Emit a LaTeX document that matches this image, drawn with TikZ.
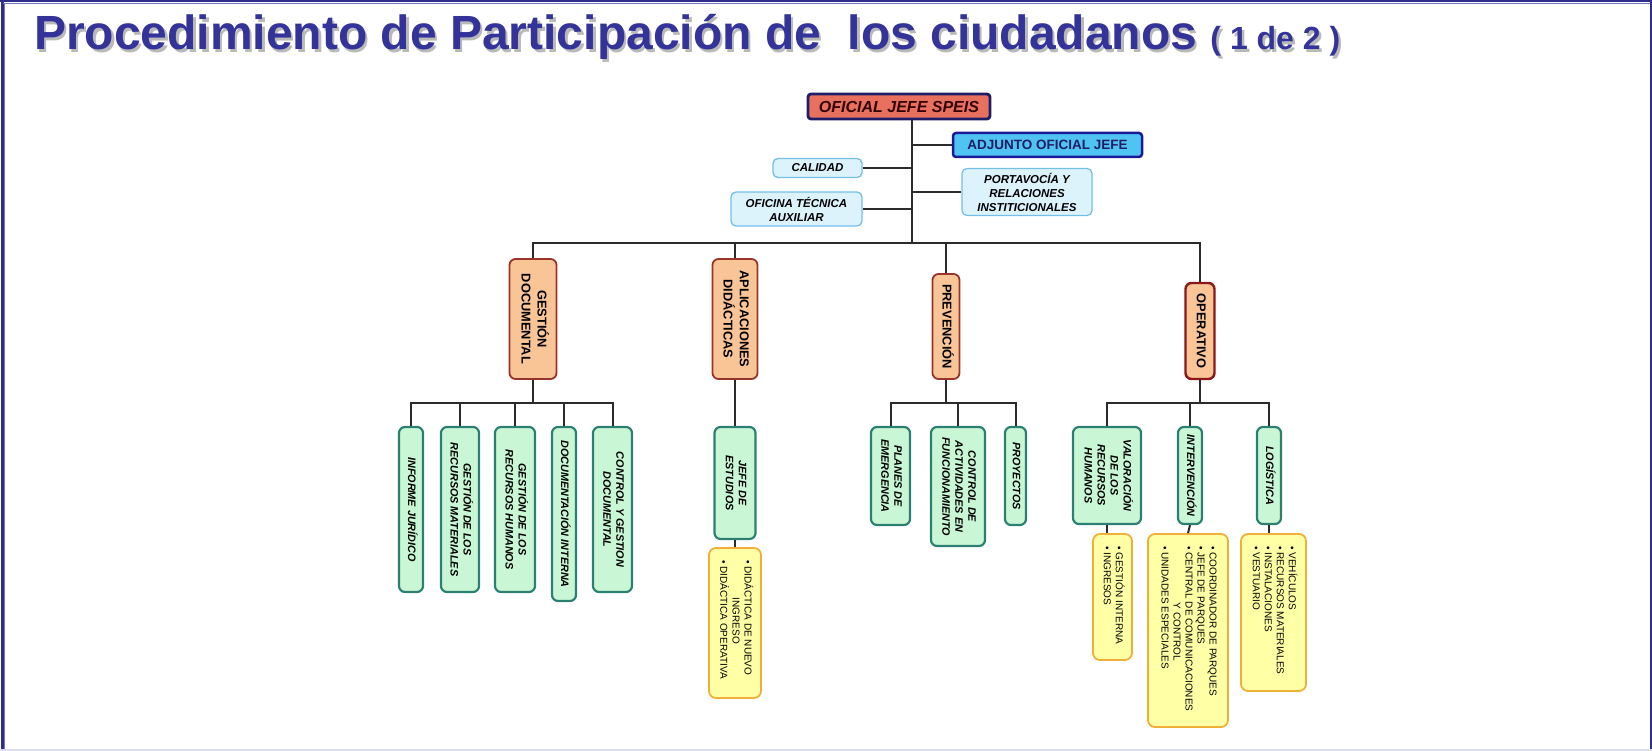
\documentclass[tikz,border=0pt]{standalone}
\usepackage{fontspec}
\setmainfont{Liberation Sans}
\usetikzlibrary{positioning}

\definecolor{titleblue}{HTML}{333399}
\definecolor{framenavy}{HTML}{2E2E8A}
\definecolor{framelight}{HTML}{7474C4}
\definecolor{framelav}{HTML}{DCDCF0}
\definecolor{chiefFill}{HTML}{E8705F}
\definecolor{chiefDraw}{HTML}{1E1E66}
\definecolor{adjFill}{HTML}{4FC3F2}
\definecolor{adjDraw}{HTML}{1A1A99}
\definecolor{staffFill}{HTML}{DDF3FC}
\definecolor{staffDraw}{HTML}{74BFE6}
\definecolor{areaFill}{HTML}{F9C597}
\definecolor{areaDraw}{HTML}{9A3328}
\definecolor{opDraw}{HTML}{8A1818}
\definecolor{unitFill}{HTML}{C9F6D4}
\definecolor{unitDraw}{HTML}{2C8073}
\definecolor{taskFill}{HTML}{FFFFA6}
\definecolor{taskDraw}{HTML}{EFB03A}
\definecolor{wireGray}{HTML}{2B2B2B}

% rotated labels (read top to bottom)
\newcommand{\vlabel}[1]{\rotatebox{-90}{\begin{tabular}{@{}c@{}}#1\end{tabular}}}
\newcommand{\vlist}[2]{\rotatebox{-90}{\makebox[#1][l]{\begin{tabular}{@{}l@{\hspace{3pt}}l@{}}#2\end{tabular}}}}

\begin{document}
\begin{tikzpicture}[x=1pt,y=-1pt,
    size/.style 2 args={minimum width=#1pt,minimum height=#2pt},
    box/.style={rounded corners=5pt,inner sep=2pt,text=black},
    chief/.style={box,rounded corners=3pt,fill=chiefFill,draw=chiefDraw,line width=2.8pt,
        font=\bfseries\itshape\fontsize{16}{18}\selectfont,text=black!80!red},
    adjunct/.style={box,rounded corners=3pt,fill=adjFill,draw=adjDraw,line width=2.5pt,
        font=\bfseries\fontsize{13.5}{16}\selectfont,text=chiefDraw},
    staff/.style={box,fill=staffFill,draw=staffDraw,line width=1.3pt,align=center,
        font=\bfseries\itshape\fontsize{11.5}{14}\selectfont},
    area/.style={box,rounded corners=6pt,fill=areaFill,draw=areaDraw,line width=1.8pt,
        font=\bfseries\fontsize{12.8}{16}\selectfont},
    unit/.style={box,rounded corners=6pt,fill=unitFill,draw=unitDraw,line width=2.2pt,
        font=\bfseries\itshape\fontsize{10.8}{13}\selectfont},
    task/.style={box,rounded corners=7pt,fill=taskFill,draw=taskDraw,line width=1.8pt,
        font=\fontsize{10}{12}\selectfont},
    wire/.style={draw=wireGray,line width=2pt},
    heading/.style={anchor=base west,inner sep=0pt,font=\bfseries\fontsize{48}{56}\selectfont}]

    \useasboundingbox (0,0) rectangle (1652,751);

    % frame
    \draw[framenavy,line width=2.5pt] (2.5,0) -- (2.5,751);
    \draw[framelight,line width=1.2pt] (4.6,3) -- (4.6,751);
    \draw[framenavy,line width=2pt] (0,1.5) -- (1652,1.5);
    \draw[framelight,line width=1pt] (3,3.5) -- (1652,3.5);
    \draw[framenavy,line width=2pt] (1651,0) -- (1651,751);
    \draw[framelav,line width=1.5pt] (0,750) -- (1652,750);

    % title
    \node[heading,text=gray!55] (titleshade) at (36.5,52.5)
        {Procedimiento de Participación de~~los ciudadanos {\fontsize{32}{36}\selectfont ( 1 de 2 )}};
    \node[heading,text=titleblue] (title) at (34,50)
        {Procedimiento de Participación de~~los ciudadanos {\fontsize{32}{36}\selectfont ( 1 de 2 )}};

    % head and staff
    \node[chief,size={182}{25}] (chief) at (899,106.5) {OFICIAL JEFE SPEIS};
    \node[adjunct,size={189}{24}] (adjunct) at (1047.5,145) {ADJUNTO OFICIAL JEFE};
    \node[staff,size={89}{19}] (quality) at (817.5,168) {CALIDAD};
    \node[staff,size={131}{34}] (techoffice) at (796.5,209) {OFICINA TÉCNICA\\AUXILIAR};
    \node[staff,size={130}{47}] (press) at (1027,192) {PORTAVOCÍA Y\\RELACIONES\\INSTITICIONALES};

    \coordinate (trunk) at (912,243);
    \coordinate (subbar) at (0,403);
    \draw[wire] (chief.south -| trunk) -- (trunk);
    \draw[wire] (adjunct.west) -- (adjunct.west -| trunk);
    \draw[wire] (quality.east) -- (quality.east -| trunk);
    \draw[wire] (techoffice.east) -- (techoffice.east -| trunk);
    \draw[wire] (press.west) -- (press.west -| trunk);

    % areas
    \node[area,size={47}{120}] (docs) at (533,319) {\vlabel{GESTIÓN\\DOCUMENTAL}};
    \node[area,size={45}{120}] (didactic) at (735,319) {\vlabel{APLICACIONES\\DIDÁCTICAS}};
    \node[area,size={27}{105}] (prevention) at (946,326.5) {\vlabel{PREVENCIÓN}};
    \node[area,size={29}{96},draw=opDraw,line width=2.4pt] (operative) at (1200,331) {\vlabel{OPERATIVO}};

    \draw[wire] (docs.north) |- (trunk) -| (operative.north);
    \draw[wire] (didactic.north) -- (didactic.north |- trunk);
    \draw[wire] (prevention.north) -- (prevention.north |- trunk);

    % gestion documental
    \node[unit,size={24}{165}] (legal) at (411,509.5) {\vlabel{INFORME JURÍDICO}};
    \node[unit,size={38}{165}] (material) at (460,509.5) {\vlabel{GESTIÓN DE LOS\\RECURSOS MATERIALES}};
    \node[unit,size={40}{165}] (humanres) at (515,509.5) {\vlabel{GESTIÓN DE LOS\\RECURSOS HUMANOS}};
    \node[unit,size={24}{174}] (internal) at (564,514) {\vlabel{DOCUMENTACIÓN INTERNA}};
    \node[unit,size={39}{165}] (control) at (612.5,509.5) {\vlabel{CONTROL Y GESTION\\DOCUMENTAL}};

    \draw[wire] (docs.south) -- (docs.south |- subbar);
    \draw[wire] (legal.north) |- (control.north |- subbar) -- (control.north);
    \foreach \u in {material,humanres,internal}
        \draw[wire] (\u.north) -- (\u.north |- subbar);

    % aplicaciones didacticas
    \node[unit,size={41}{112}] (studies) at (735,483) {\vlabel{JEFE DE\\ESTUDIOS}};
    \node[task,size={52}{150}] (didtasks) at (735,623)
        {\vlist{126pt}{\textbullet & \begin{tabular}[t]{@{}c@{}}DIDÁCTICA DE NUEVO\\INGRESO\end{tabular}\\
                      \textbullet & DIDÁCTICA OPERATIVA}};
    \draw[wire] (didactic.south) -- (studies.north);
    \draw[wire] (studies.south) -- (didtasks.north);

    % prevencion
    \node[unit,size={39}{98}] (plans) at (890.5,476) {\vlabel{PLANES DE\\EMERGENCIA}};
    \node[unit,size={54}{119}] (activities) at (958,486.5) {\vlabel{CONTROL DE\\ACTIVIDADES EN\\FUNCIONAMIENTO}};
    \node[unit,size={21}{98}] (projects) at (1015.5,476) {\vlabel{PROYECTOS}};

    \draw[wire] (prevention.south) -- (prevention.south |- subbar);
    \draw[wire] (plans.north) |- (projects.north |- subbar) -- (projects.north);
    \draw[wire] (activities.north) -- (activities.north |- subbar);

    % operativo
    \node[unit,size={68}{97}] (assessment) at (1107,475.5) {\vlabel{VALORACIÓN\\DE LOS\\RECURSOS\\HUMANOS}};
    \node[unit,size={24}{97}] (intervention) at (1190,475.5) {\vlabel{INTERVENCIÓN}};
    \node[unit,size={24}{97}] (logistics) at (1269,475.5) {\vlabel{LOGÍSTICA}};

    \node[task,size={39}{126}] (hrtasks) at (1112.5,597)
        {\vlist{102pt}{\textbullet & GESTIÓN INTERNA\\ \textbullet & INGRESOS}};
    \node[task,size={80}{193}] (inttasks) at (1188,630.5)
        {\vlist{169pt}{\textbullet & COORDINADOR DE PARQUES\\
                      \textbullet & JEFE DE PARQUES\\
                      \textbullet & \begin{tabular}[t]{@{}c@{}}CENTRAL DE COMUNICACIONES\\Y CONTROL\end{tabular}\\[5pt]
                      \textbullet & UNIDADES ESPECIALES}};
    \node[task,size={65}{157}] (logtasks) at (1273.5,612.5)
        {\vlist{133pt}{\textbullet & VEHÍCULOS\\ \textbullet & RECURSOS MATERIALES\\
                      \textbullet & INSTALACIONES\\ \textbullet & VESTUARIO}};

    \draw[wire] (operative.south) -- (operative.south |- subbar);
    \draw[wire] (assessment.north) |- (logistics.north |- subbar) -- (logistics.north);
    \draw[wire] (intervention.north) -- (intervention.north |- subbar);
    \draw[wire] (assessment.south) -- (assessment.south |- hrtasks.north);
    \draw[wire] (intervention.south) -- (inttasks.north);
    \draw[wire] (logistics.south) -- (logistics.south |- logtasks.north);
\end{tikzpicture}
\end{document}
